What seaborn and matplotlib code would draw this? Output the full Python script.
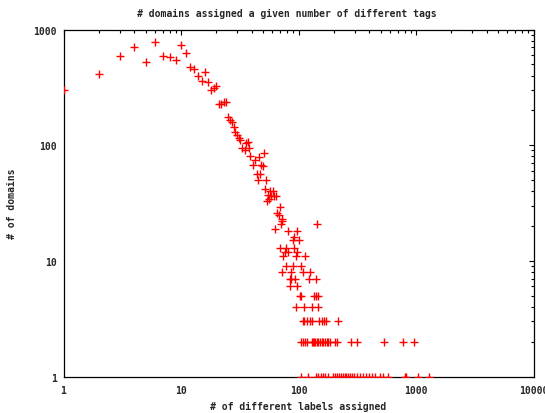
import matplotlib
matplotlib.use('Agg')
import matplotlib.pyplot as plt
import matplotlib.ticker as mticker
import seaborn as sns
import pandas as pd

# --- data (log-log) ---
# small label counts: one point each
head_labels = [1, 2, 3, 4, 5, 6, 7, 8, 9, 10, 11, 12, 13, 14, 15, 16, 17, 18, 19, 20,
               21, 22, 23, 24, 25, 26, 27, 28, 29, 30, 31, 32, 33, 35, 36, 37, 38, 39,
               41, 43, 44, 45, 46, 47, 48, 50, 51, 52, 53, 54, 55, 56, 57, 58, 61, 62,
               63, 64, 66, 68, 69, 71, 72, 73, 145]
head_domains = [300, 410, 590, 700, 520, 780, 590, 577, 550, 740, 630, 478, 457, 400, 362,
                428, 351, 301, 311, 324, 228, 226, 238, 235, 175, 166, 160, 143, 131, 123,
                115, 110, 94, 90, 105, 107, 95, 81, 68, 75, 56, 50, 79, 56, 68, 66, 85, 42,
                50, 33, 37, 34, 40, 36, 40, 36, 19, 36, 26, 25, 29, 21, 23, 22, 21]

# tail: x positions of the points sitting on each small domain count
tail_18 = [82, 98]
tail_16 = [92]
tail_15 = [89, 100]
tail_13 = [70, 79, 92]
tail_12 = [77, 81, 97]
tail_11 = [74, 95, 114]
tail_9 = [78, 89, 104]
tail_8 = [73, 87, 109, 125]
tail_7 = [84, 86, 94, 122, 140]
tail_6 = [85, 98]
tail_5 = [102, 106, 135, 141, 147]
tail_4 = [95, 112, 131, 147]
tail_3 = [109, 112, 117, 125, 130, 150, 157, 164, 172, 218]
tail_2 = [104, 109, 114, 119, 130, 134, 136, 138, 143, 147, 152, 157, 163, 168, 174,
          179, 185, 205, 211, 278, 316, 537, 779, 968]
tail_1 = [104, 121, 141, 147, 154, 163, 168, 179, 198, 205, 214, 222, 232, 240, 248,
          256, 265, 274, 283, 296, 316, 336, 352, 377, 400, 420, 449, 495, 521, 581,
          801, 817, 1050, 1300]

x_ticks = [1, 10, 100, 1000, 10000]
x_tick_labels = ['1', '10', '100', '1000', '10000']
y_ticks = [1, 10, 100, 1000]
y_tick_labels = ['1', '10', '100', '1000']

tails = {18: tail_18, 16: tail_16, 15: tail_15, 13: tail_13, 12: tail_12, 11: tail_11,
         9: tail_9, 8: tail_8, 7: tail_7, 6: tail_6, 5: tail_5, 4: tail_4, 3: tail_3,
         2: tail_2, 1: tail_1}

rows = list(zip(head_labels, head_domains))
for count, xs in tails.items():
    rows += [(x, count) for x in xs]
df = pd.DataFrame(rows, columns=['labels', 'domains'])

sns.set_style('white')
plt.rcParams['font.family'] = ['DejaVu Sans Mono']
plt.rcParams['font.weight'] = 'bold'

fig = plt.figure(figsize=(5.45, 4.14), dpi=100)
ax = fig.add_axes([63.5 / 545, 1 - 377.5 / 414, 470 / 545, 347 / 414])

sns.scatterplot(data=df, x='labels', y='domains', marker='+', color='#ff0000',
                s=36, linewidth=1.0, ax=ax, legend=False, zorder=3)

ax.set_xscale('log')
ax.set_yscale('log')
ax.set_xlim(1, 10000)
ax.set_ylim(1, 1000)

ax.set_xticks(x_ticks, labels=x_tick_labels)
ax.set_yticks(y_ticks, labels=y_tick_labels)
ax.xaxis.set_minor_locator(mticker.LogLocator(base=10, subs=range(2, 10)))
ax.yaxis.set_minor_locator(mticker.LogLocator(base=10, subs=range(2, 10)))
ax.xaxis.set_minor_formatter(mticker.NullFormatter())
ax.yaxis.set_minor_formatter(mticker.NullFormatter())

ax.tick_params(which='both', direction='in', top=True, right=True, color='black',
               width=0.8, labelsize=7)
ax.tick_params(which='major', length=3.8)
ax.tick_params(which='minor', length=2.0)
ax.tick_params(axis='x', which='major', pad=6)
ax.tick_params(axis='y', which='major', pad=5)

for sp in ax.spines.values():
    sp.set_visible(True)
    sp.set_color('black')
    sp.set_linewidth(0.9)

ax.set_xlabel('# of different labels assigned', fontsize=7, fontweight='bold')
ax.set_ylabel('# of domains', fontsize=7, fontweight='bold')
ax.xaxis.set_label_coords(0.5, -0.07)
ax.yaxis.set_label_coords(-0.099, 0.5)

fig.text(287 / 545, 1 - 13.5 / 414, '# domains assigned a given number of different tags',
         ha='center', va='center', fontsize=7, fontweight='bold')

fig.savefig('out.png', dpi=100)
